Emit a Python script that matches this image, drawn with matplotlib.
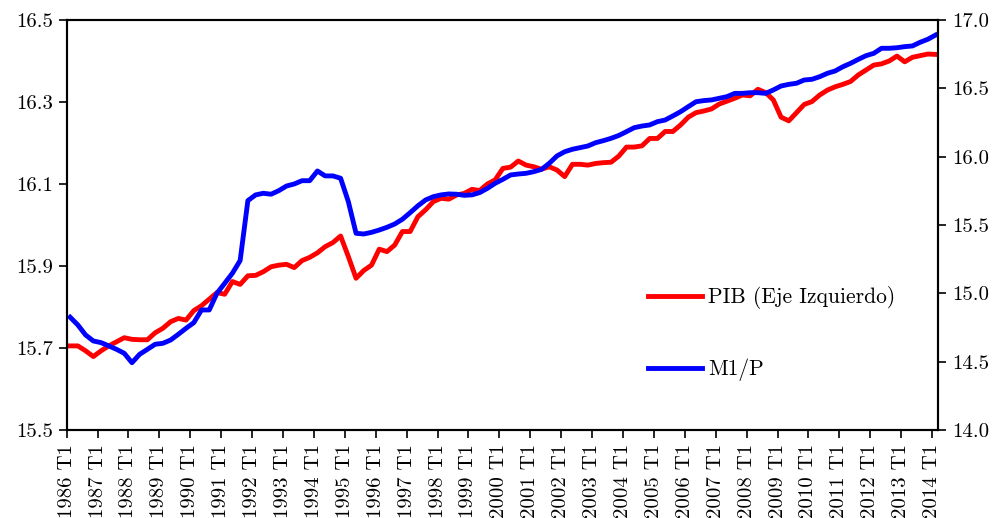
import matplotlib
matplotlib.use("Agg")
import matplotlib.pyplot as plt
import numpy as np

plt.rcParams['font.family'] = ['cmr10', 'DejaVu Serif']
plt.rcParams['axes.formatter.use_mathtext'] = True
plt.rcParams['axes.unicode_minus'] = False

# trimestres 1986 T1 ... 2014 T1
years = list(range(1986, 2015))
quarters = [f"{y} T{q}" for y in years for q in range(1, 5)][:113]
tick_labels = [f"{y} T1" for y in years]

# log PIB (eje izquierdo)
pib = [
    15.705, 15.705, 15.693, 15.679, 15.693, 15.705, 15.715, 15.725,
    15.721, 15.720, 15.720, 15.737, 15.748, 15.764, 15.772, 15.768,
    15.791, 15.803, 15.819, 15.835, 15.831, 15.862, 15.855, 15.876,
    15.877, 15.886, 15.898, 15.902, 15.904, 15.896, 15.913, 15.921,
    15.932, 15.947, 15.957, 15.973, 15.923, 15.870, 15.889, 15.902,
    15.941, 15.935, 15.951, 15.984, 15.984, 16.020, 16.037, 16.057,
    16.065, 16.063, 16.073, 16.077, 16.087, 16.084, 16.100, 16.110,
    16.138, 16.141, 16.156, 16.146, 16.142, 16.136, 16.142, 16.134,
    16.118, 16.148, 16.148, 16.146, 16.150, 16.152, 16.153, 16.168,
    16.190, 16.190, 16.193, 16.211, 16.211, 16.228, 16.228, 16.244,
    16.263, 16.274, 16.278, 16.283, 16.295, 16.302, 16.309, 16.317,
    16.315, 16.331, 16.323, 16.305, 16.263, 16.254, 16.274, 16.294,
    16.301, 16.317, 16.329, 16.337, 16.343, 16.350, 16.366, 16.378,
    16.390, 16.393, 16.400, 16.412, 16.398, 16.409, 16.413, 16.417,
    16.416,
]

# log M1/P (eje derecho)
m1p = [
    14.825, 14.768, 14.695, 14.651, 14.639, 14.615, 14.590, 14.561,
    14.492, 14.554, 14.590, 14.627, 14.634, 14.658, 14.700, 14.744,
    14.785, 14.878, 14.878, 15.000, 15.073, 15.147, 15.240, 15.678,
    15.720, 15.732, 15.725, 15.751, 15.785, 15.800, 15.824, 15.824,
    15.895, 15.859, 15.859, 15.842, 15.671, 15.439, 15.434, 15.446,
    15.463, 15.483, 15.507, 15.542, 15.590, 15.640, 15.683, 15.707,
    15.720, 15.727, 15.725, 15.717, 15.720, 15.737, 15.768, 15.805,
    15.834, 15.866, 15.873, 15.878, 15.890, 15.907, 15.951, 16.005,
    16.036, 16.054, 16.066, 16.078, 16.102, 16.117, 16.134, 16.155,
    16.183, 16.212, 16.224, 16.232, 16.256, 16.268, 16.298, 16.329,
    16.366, 16.402, 16.410, 16.415, 16.427, 16.439, 16.463, 16.463,
    16.468, 16.468, 16.463, 16.488, 16.517, 16.529, 16.537, 16.561,
    16.566, 16.585, 16.610, 16.627, 16.658, 16.683, 16.712, 16.739,
    16.756, 16.793, 16.793, 16.797, 16.805, 16.810, 16.837, 16.859,
    16.890,
]

x = np.arange(len(quarters))

fig = plt.figure(figsize=(9.98, 5.18), dpi=100)
ax = fig.add_axes([0.0668, 0.17, 0.873, 0.7914])
ax2 = ax.twinx()

l1, = ax.plot(x, pib, color='#ff0000', lw=3.5, label='PIB (Eje Izquierdo)')
l2, = ax2.plot(x, m1p, color='#0000ff', lw=3.5, label='M1/P')

ax.set_xlim(-0.45, 112.3)
ax.set_ylim(15.5, 16.5)
ax2.set_ylim(14.0, 17.0)

ax.set_xticks(np.arange(0, 113, 4) - 0.45)
ax.set_xticklabels(tick_labels, rotation=90)
ax.set_yticks(np.arange(15.5, 16.51, 0.2))
ax.set_yticklabels([f"{v:.1f}" for v in np.arange(15.5, 16.51, 0.2)])
ax2.set_yticks(np.arange(14.0, 17.01, 0.5))
ax2.set_yticklabels([f"{v:.1f}" for v in np.arange(14.0, 17.01, 0.5)])

for a in (ax, ax2):
    a.tick_params(direction='out', length=6, width=1.2, labelsize=15, pad=4)
    for s in a.spines.values():
        s.set_linewidth(1.5)

ax.legend(handles=[l1, l2], loc='upper left', bbox_to_anchor=(0.667, 0.35),
          frameon=False, fontsize=15.5, labelspacing=2.3, handlelength=2.5,
          handletextpad=0.3, borderpad=0, borderaxespad=0)

fig.savefig('out.png', dpi=100)
